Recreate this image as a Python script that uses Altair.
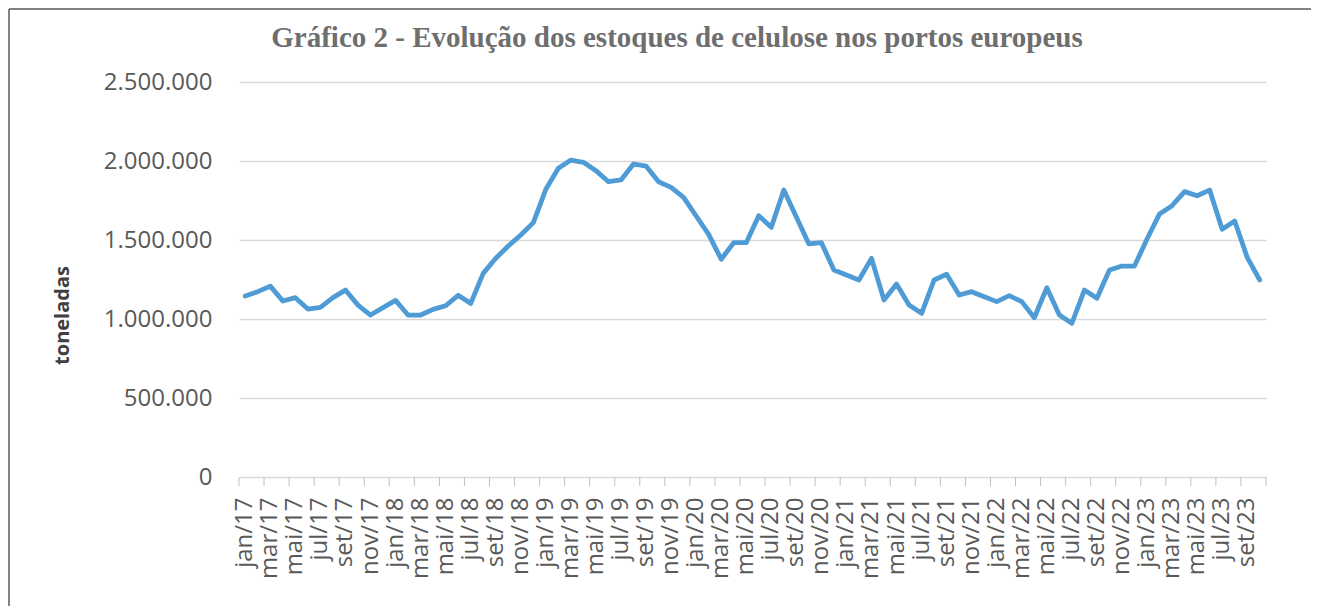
import altair as alt
import pandas as pd

# Categories (months, pt-BR)
anos = ["17", "18", "19", "20", "21", "22", "23"]
meses_abrev = ["jan", "fev", "mar", "abr", "mai", "jun", "jul", "ago", "set", "out", "nov", "dez"]
meses = [f"{m}/{a}" for a in anos for m in meses_abrev][:82]  # jan/17 .. out/23

# Stocks (tonnes)
estoque_2017 = [1145000, 1173000, 1208000, 1114000, 1135000, 1063000,
                1074000, 1135000, 1183000, 1088000, 1025000, 1072000]
estoque_2018 = [1118000, 1025000, 1025000, 1061000, 1084000, 1150000,
                1099000, 1289000, 1384000, 1462000, 1532000, 1610000]
estoque_2019 = [1821000, 1954000, 2006000, 1992000, 1939000, 1869000,
                1880000, 1981000, 1968000, 1869000, 1833000, 1770000]
estoque_2020 = [1652000, 1536000, 1378000, 1483000, 1483000, 1654000,
                1580000, 1816000, 1645000, 1475000, 1483000, 1310000]
estoque_2021 = [1278000, 1247000, 1384000, 1120000, 1221000, 1088000,
                1036000, 1247000, 1283000, 1152000, 1173000, 1141000]
estoque_2022 = [1110000, 1148000, 1110000, 1008000, 1198000, 1025000,
                973000, 1183000, 1131000, 1310000, 1335000, 1335000]
estoque_2023 = [1506000, 1665000, 1717000, 1806000, 1780000, 1816000,
                1568000, 1620000, 1390000, 1247000]

valores = (estoque_2017 + estoque_2018 + estoque_2019 + estoque_2020 +
           estoque_2021 + estoque_2022 + estoque_2023)

y_ticks = [0, 500000, 1000000, 1500000, 2000000, 2500000]
rotulos_x = meses[::2]

titulo = "Gráfico 2 - Evolução dos estoques de celulose nos portos europeus"

df = pd.DataFrame({"mes": meses, "estoque": valores})
df_ticks = pd.DataFrame({"mes": rotulos_x})
df_one = pd.DataFrame({"k": [0]})

W, H = 1027, 395
GRAY = "#595959"

xscale = alt.Scale(domain=meses, paddingInner=0, paddingOuter=0)
xaxis = alt.Axis(
    values=rotulos_x, labelAngle=270, ticks=False, domain=False, grid=False,
    labelFont="Open Sans", labelFontSize=24, labelColor=GRAY,
    labelPadding=20, labelAlign="right", labelBaseline="middle",
    labelOverlap=False, title=None,
)

line = alt.Chart(df).mark_line(
    color="#4F9BD5", strokeWidth=4.8, strokeJoin="round", strokeCap="round"
).encode(
    x=alt.X("mes:N", scale=xscale, sort=meses, title=None, axis=xaxis),
    y=alt.Y(
        "estoque:Q",
        scale=alt.Scale(domain=[0, 2500000]),
        axis=alt.Axis(
            values=y_ticks,
            labelExpr="replace(format(datum.value, ',.0f'), /,/g, '.')",
            domain=False, ticks=False,
            grid=True, gridColor="#d9d9d9", gridWidth=1.3,
            labelFont="Open Sans", labelFontSize=24, labelColor=GRAY, labelPadding=27,
            title="toneladas", titleFont="Open Sans", titleFontSize=20,
            titleFontWeight="bold", titleColor="#404040", titleAngle=270,
            titleX=-177, titleY=233, titleAlign="center", titleBaseline="middle",
        ),
    ),
)

tick_rules = alt.Chart(df_ticks).mark_rule(color="#bfbfbf", strokeWidth=1).encode(
    x=alt.X("mes:N", scale=xscale, sort=meses, bandPosition=0, title=None, axis=xaxis),
    y=alt.value(H),
    y2=alt.value(H + 9),
)

end_tick = alt.Chart(df_one).mark_rule(color="#bfbfbf", strokeWidth=1).encode(
    x=alt.value(W), y=alt.value(H), y2=alt.value(H + 9)
)

border_left = alt.Chart(df_one).mark_rule(color="#595959", strokeWidth=1.5).encode(
    x=alt.value(-230), y=alt.value(-73), y2=alt.value(H + 200)
)
border_top = alt.Chart(df_one).mark_rule(color="#595959", strokeWidth=1.5).encode(
    x=alt.value(-230), x2=alt.value(W + 100), y=alt.value(-73)
)

title_text = alt.Chart(df_one).mark_text(
    font="Liberation Serif", fontSize=29, fontWeight="bold", color="#6e6e6e",
    align="center", baseline="alphabetic",
).encode(
    x=alt.value(677 - 239), y=alt.value(47 - 82), text=alt.value(titulo)
)

chart = alt.layer(
    border_left, border_top, title_text, tick_rules, end_tick, line
).properties(
    width=W,
    height=H,
    autosize="none",
    padding={"left": 231, "top": 74, "right": 45, "bottom": 129},
).configure_view(stroke=None)

chart.save("out.html", embed_options={"renderer": "svg", "actions": False})
